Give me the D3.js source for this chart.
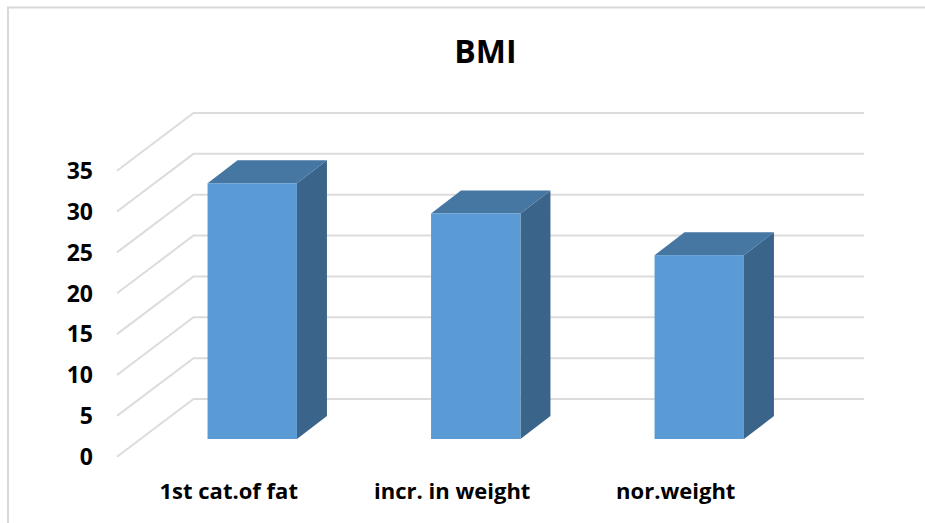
<!DOCTYPE html>
<html>
<head>
<meta charset="utf-8">
<script src="https://cdn.jsdelivr.net/npm/d3@7"></script>
<style>
  html, body { margin: 0; padding: 0; background: #fff; }
  text { font-family: "Open Sans", Lato, sans-serif; font-weight: 700; fill: #000; }
</style>
</head>
<body>
<svg id="chart" width="925" height="523"></svg>
<script>
const chartTitle = "BMI";
const categories = ["1st cat.of fat", "incr. in weight", "nor.weight"];
const values = [31.3, 27.6, 22.5];
const yTicks = [0, 5, 10, 15, 20, 25, 30, 35];

const svg = d3.select("#chart");

// Front plane of the 3D box
const y = d3.scaleLinear().domain([0, 35]).range([456.7, 170.7]);
const x = d3.scaleBand().domain(categories).range([117, 787.5]).paddingInner(0.6).paddingOuter(0.3);

// Oblique projection offsets: floor depth, bar inset, bar depth
const wall = { dx: 76.5, dy: -57.7 };
const inset = { dx: 23.5, dy: -17.7 };
const depth = { dx: 30, dy: -23 };

// Outer frame (top and left edges only)
svg.append("path")
  .attr("d", "M8,523V7.5H925")
  .attr("fill", "none").attr("stroke", "#d9d9d9").attr("stroke-width", 2);

svg.append("text")
  .attr("x", 485.5).attr("y", 62.5)
  .attr("text-anchor", "middle").attr("font-size", 32)
  .text(chartTitle);

// Gridlines run along the side wall, then across the back wall
svg.append("g").selectAll("path").data(yTicks).join("path")
  .attr("d", d => {
    const x0 = x.range()[0], x1 = x.range()[1], py = y(d);
    return `M${x0},${py}L${x0 + wall.dx},${py + wall.dy}L${x1 + wall.dx},${py + wall.dy}`;
  })
  .attr("fill", "none").attr("stroke", "#dcdcdc").attr("stroke-width", 2);

// Value axis labels
svg.append("g").selectAll("text").data(yTicks).join("text")
  .attr("x", 93).attr("y", d => y(d))
  .attr("dy", "0.36em").attr("text-anchor", "end").attr("font-size", 23)
  .text(d => d);

// Bars: side, top and front faces
const bars = svg.append("g").selectAll("g").data(values).join("g")
  .attr("transform", (d, i) => `translate(${x(categories[i]) + inset.dx},${inset.dy})`);
const bw = x.bandwidth();

bars.append("path").attr("fill", "#3a6489")
  .attr("d", d => `M${bw},${y(d)}l${depth.dx},${depth.dy}V${y(0) + depth.dy}L${bw},${y(0)}Z`);
bars.append("path").attr("fill", "#4676a2")
  .attr("d", d => `M0,${y(d)}l${depth.dx},${depth.dy}h${bw}l${-depth.dx},${-depth.dy}Z`);
bars.append("rect").attr("fill", "#5b9bd5")
  .attr("x", 0).attr("width", bw)
  .attr("y", d => y(d)).attr("height", d => y(0) - y(d));

// Category labels centred under each band on the front plane
svg.append("g").selectAll("text").data(categories).join("text")
  .attr("x", d => x(d) + bw / 2).attr("y", 499)
  .attr("text-anchor", "middle").attr("font-size", 22)
  .text(d => d);
</script>
</body>
</html>
